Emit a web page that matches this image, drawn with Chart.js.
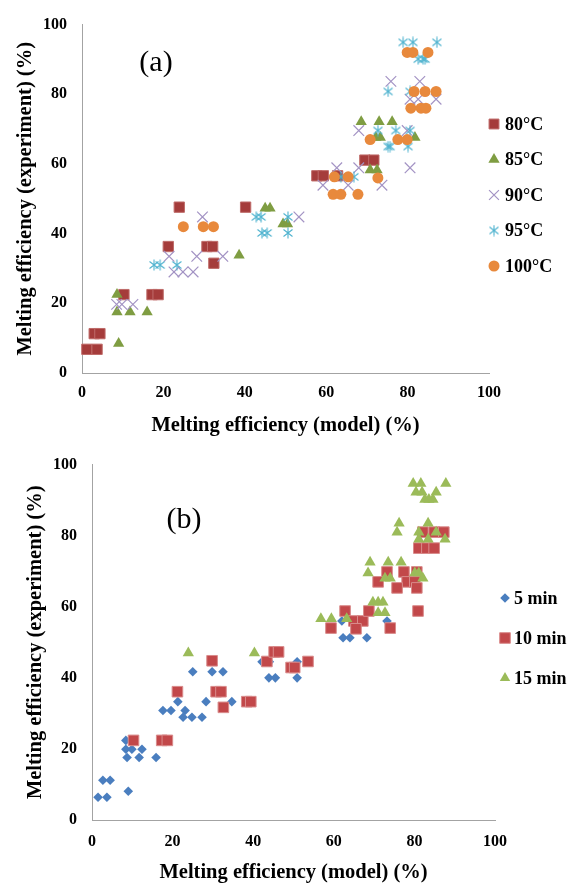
<!DOCTYPE html>
<html>
<head>
<meta charset="utf-8">
<script src="https://cdn.jsdelivr.net/npm/chart.js@4.4.1/dist/chart.umd.min.js"></script>
<style>
  body { margin: 0; background: #fff; }
  .wrap { position: absolute; left: 0; }
  canvas { display: block; }
</style>
</head>
<body>
<div class="wrap" style="top:0"><canvas id="chartA" width="572" height="440"></canvas></div>
<div class="wrap" style="top:440px"><canvas id="chartB" width="572" height="445"></canvas></div>
<script>
// ---- data (a): temperature series ----
const tempLabels = ["80°C", "85°C", "90°C", "95°C", "100°C"];
const t80X = [1.2, 3.7, 3.0, 4.4, 10.3, 17.2, 18.7, 21.2, 23.9, 30.7, 32.1, 32.4, 40.2, 57.7, 59.3, 62.8, 69.5, 71.7];
const t80Y = [6.8, 6.8, 11.3, 11.3, 22.5, 22.5, 22.5, 36.3, 47.6, 36.3, 36.3, 31.5, 47.6, 56.6, 56.6, 56.6, 61.1, 61.1];
const t85X = [8.6, 8.6, 11.8, 16.0, 9.0, 38.6, 45.0, 46.2, 49.4, 50.5, 68.6, 73.0, 76.2, 72.2, 73.3, 81.8, 70.8, 72.5];
const t85Y = [22.5, 17.5, 17.5, 17.5, 8.5, 33.8, 47.3, 47.3, 42.8, 42.8, 72.1, 72.1, 72.1, 67.6, 67.6, 67.6, 58.3, 58.3];
const t90X = [8.5, 9.8, 12.5, 21.4, 22.6, 24.8, 27.3, 28.2, 29.6, 34.6, 53.3, 59.2, 62.6, 65.4, 68.0, 73.7, 80.6, 68.0, 79.9, 75.9, 83.0, 80.6, 82.6, 87.0];
const t90Y = [19.7, 19.7, 19.7, 33.5, 29.0, 29.0, 29.0, 33.5, 44.8, 33.5, 44.8, 53.9, 58.9, 53.9, 58.9, 53.9, 58.9, 69.6, 69.6, 83.7, 83.7, 78.6, 78.6, 78.6];
const t95X = [17.7, 19.2, 23.3, 42.8, 44.0, 44.2, 45.5, 50.6, 50.6, 63.6, 66.8, 72.7, 77.1, 80.6, 75.2, 75.7, 80.1, 75.2, 80.6, 78.9, 81.3, 87.2, 82.6, 83.8, 84.3];
const t95Y = [31, 31, 31, 44.8, 44.8, 40.2, 40.2, 44.8, 40.2, 56.3, 56.3, 69.6, 69.6, 69.6, 65, 65, 65, 80.8, 80.8, 94.9, 94.9, 94.9, 90.1, 90.1, 90.1];
const t100X = [24.9, 29.8, 32.3, 62.0, 65.4, 72.7, 61.7, 63.6, 67.8, 70.8, 77.6, 79.9, 80.8, 83.3, 84.5, 81.6, 84.3, 87.0, 79.9, 81.3, 85.0];
const t100Y = [42, 42, 42, 56.3, 56.3, 56, 51.3, 51.3, 51.3, 67, 67, 67, 76, 76, 76, 80.8, 80.8, 80.8, 92, 92, 92];

// ---- data (b): time series ----
const timeLabels = ["5 min", "10 min", "15 min"];
const m5X = [1.5, 3.7, 2.7, 4.5, 9.0, 8.4, 8.4, 9.9, 12.4, 8.7, 11.7, 15.9, 17.6, 19.6, 21.3, 23.1, 22.6, 24.8, 27.3, 28.3, 25.0, 29.8, 32.5, 34.7, 42.2, 44.0, 43.9, 45.5, 50.9, 50.9, 62.0, 62.3, 64.0, 68.2, 73.2];
const m5Y = [6.4, 6.4, 11.2, 11.2, 8.1, 22.4, 19.9, 19.9, 19.9, 17.6, 17.6, 17.6, 30.8, 30.8, 33.3, 30.8, 28.9, 28.9, 28.9, 33.3, 41.7, 41.7, 41.7, 33.3, 44.5, 44.5, 40, 40, 44.5, 40, 56, 51.3, 51.3, 51.3, 56];
const m10X = [10.3, 17.3, 18.7, 21.2, 29.8, 30.8, 32.0, 32.6, 38.4, 39.4, 43.4, 45.2, 46.3, 49.4, 50.3, 53.6, 59.3, 62.8, 65.0, 67.2, 65.5, 68.7, 74.0, 80.9, 73.2, 77.4, 80.6, 71.0, 78.2, 80.1, 75.7, 80.6, 82.1, 84.9, 87.3, 81.1, 83.1, 84.9];
const m10Y = [22.4, 22.4, 22.4, 36.1, 44.8, 36.1, 36.1, 31.7, 33.3, 33.3, 44.6, 47.3, 47.3, 42.9, 42.9, 44.6, 54, 58.8, 56, 56, 53.8, 58.8, 54, 58.8, 69.8, 69.8, 69.8, 67, 67, 67, 65.3, 65.3, 81, 81, 81, 76.5, 76.5, 76.5];
const m15X = [23.9, 40.3, 56.8, 59.4, 63.2, 69.7, 71.0, 72.2, 71.0, 72.7, 69.0, 68.5, 73.5, 76.7, 72.7, 74.0, 80.1, 81.1, 82.1, 75.7, 76.2, 81.1, 83.4, 85.4, 81.1, 83.4, 87.6, 79.7, 81.6, 87.8, 80.4, 81.9, 85.4, 82.6, 83.6, 84.6];
const m15Y = [47, 47, 56.6, 56.6, 56.6, 61.3, 61.3, 61.3, 58.3, 58.3, 72.5, 69.5, 72.5, 72.5, 68, 68, 69.5, 69.5, 68, 81, 83.5, 81, 83.5, 81, 79, 79, 79, 94.7, 94.7, 94.7, 92.2, 92.2, 92.2, 90.2, 90.2, 90.2];

const axisTicks = [0, 20, 40, 60, 80, 100];
const xTitle = "Melting efficiency (model) (%)";
const yTitle = "Melting efficiency (experiment) (%)";

const serif = "'Liberation Serif', 'Times New Roman', serif";

function pts(xs, ys) {
  return xs.map((x, i) => ({ x: x, y: ys[i] }));
}

// Excel style asterisk marker (vertical bar + x)
function makeStar(color) {
  const c = document.createElement("canvas");
  c.width = 12;
  c.height = 12;
  const g = c.getContext("2d");
  g.strokeStyle = color;
  g.lineWidth = 1.1;
  g.beginPath();
  g.moveTo(6, 0.5); g.lineTo(6, 11.5);
  g.moveTo(1.5, 2.5); g.lineTo(10.5, 9.5);
  g.moveTo(10.5, 2.5); g.lineTo(1.5, 9.5);
  g.stroke();
  return c;
}

// legend + panel letter drawn at fixed spots
const sideLegend = {
  id: "sideLegend",
  afterDraw(chart, args, opts) {
    const ctx = chart.ctx;
    ctx.save();
    chart.data.datasets.forEach((ds, i) => {
      const y = opts.y0 + i * opts.step;
      ctx.fillStyle = ds.backgroundColor;
      ctx.strokeStyle = ds.borderColor;
      ctx.lineWidth = ds.borderWidth;
      Chart.helpers.drawPoint(ctx, {
        pointStyle: ds.pointStyle,
        radius: ds.legendRadius,
        borderWidth: ds.borderWidth,
        rotation: 0
      }, opts.x, y);
      ctx.fillStyle = "#000";
      ctx.font = "bold 18px " + serif;
      ctx.textAlign = "left";
      ctx.textBaseline = "middle";
      ctx.fillText(ds.label, opts.x + opts.gap, y + 1);
    });
    ctx.font = "30px " + serif;
    ctx.textAlign = "center";
    ctx.textBaseline = "middle";
    ctx.fillStyle = "#000";
    ctx.fillText(opts.panel, opts.px, opts.py);
    ctx.restore();
  }
};

function makeScales(yWidth, xHeight, yTitlePad, xTitlePad, xTickPad) {
  const tickFont = { family: serif, size: 16, weight: "bold" };
  const titleFont = { family: serif, size: 20.5, weight: "bold" };
  return {
    x: {
      type: "linear",
      min: 0,
      max: 100,
      afterFit: (s) => { s.height = xHeight; },
      afterBuildTicks: (s) => { s.ticks = axisTicks.map((v) => ({ value: v })); },
      grid: { display: false, drawTicks: false },
      border: { display: true, color: "#a3a3a3", width: 1 },
      ticks: { color: "#000", font: tickFont, padding: xTickPad },
      title: { display: true, text: xTitle, color: "#000", font: titleFont, padding: { top: 0, bottom: xTitlePad } }
    },
    y: {
      type: "linear",
      min: 0,
      max: 100,
      afterFit: (s) => { s.width = yWidth; },
      afterBuildTicks: (s) => { s.ticks = axisTicks.map((v) => ({ value: v })); },
      grid: { display: false, drawTicks: false },
      border: { display: true, color: "#a3a3a3", width: 1 },
      ticks: { color: "#000", font: tickFont, padding: 15 },
      title: { display: true, text: yTitle, color: "#000", font: titleFont, padding: { top: yTitlePad, bottom: 0 } }
    }
  };
}

// ---- chart (a) ----
const starBlue = makeStar("#4fb3cf");
new Chart(document.getElementById("chartA"), {
  type: "scatter",
  data: {
    datasets: [
      { label: tempLabels[0], data: pts(t80X, t80Y), pointStyle: "rect", pointRadius: 7.3, legendRadius: 7,
        backgroundColor: "#a53c3b", borderColor: "#bf6b69", borderWidth: 1, order: 4, clip: false },
      { label: tempLabels[1], data: pts(t85X, t85Y), pointStyle: "triangle", pointRadius: 6.5, legendRadius: 6.5,
        backgroundColor: "#7f9d42", borderColor: "#7f9d42", borderWidth: 0, order: 3, clip: false },
      { label: tempLabels[2], data: pts(t90X, t90Y), pointStyle: "crossRot", pointRadius: 7.5, legendRadius: 7,
        backgroundColor: "#a393c4", borderColor: "#a393c4", borderWidth: 1.2, order: 2, clip: false },
      { label: tempLabels[3], data: pts(t95X, t95Y), pointStyle: starBlue, pointRadius: 6, legendRadius: 6,
        backgroundColor: "#4fb3cf", borderColor: "#4fb3cf", borderWidth: 0, order: 1, clip: false },
      { label: tempLabels[4], data: pts(t100X, t100Y), pointStyle: "circle", pointRadius: 5.5, legendRadius: 5.5,
        backgroundColor: "#e8893c", borderColor: "#e8893c", borderWidth: 0, order: 0, clip: false }
    ]
  },
  options: {
    responsive: false,
    animation: false,
    layout: { padding: { left: 0, right: 83, top: 18, bottom: 0 } },
    scales: makeScales(82, 67, 13, 2, 10),
    plugins: {
      legend: { display: false },
      tooltip: { enabled: false },
      sideLegend: { x: 494, gap: 11, y0: 124, step: 35.5, panel: "(a)", px: 156, py: 63 }
    }
  },
  plugins: [sideLegend]
});

// ---- chart (b) ----
new Chart(document.getElementById("chartB"), {
  type: "scatter",
  data: {
    datasets: [
      { label: timeLabels[0], data: pts(m5X, m5Y), pointStyle: "rectRot", pointRadius: 4.8, legendRadius: 4.8,
        backgroundColor: "#4a7ebf", borderColor: "#4a7ebf", borderWidth: 0, order: 2, clip: false },
      { label: timeLabels[1], data: pts(m10X, m10Y), pointStyle: "rect", pointRadius: 7.5, legendRadius: 7.5,
        backgroundColor: "#c2484a", borderColor: "#d98b8b", borderWidth: 1, order: 1, clip: false },
      { label: timeLabels[2], data: pts(m15X, m15Y), pointStyle: "triangle", pointRadius: 6.5, legendRadius: 6,
        backgroundColor: "#9bbb59", borderColor: "#9bbb59", borderWidth: 0, order: 0, clip: false }
    ]
  },
  options: {
    responsive: false,
    animation: false,
    layout: { padding: { left: 0, right: 77, top: 23, bottom: 0 } },
    scales: makeScales(92, 65, 23, 0, 12),
    plugins: {
      legend: { display: false },
      tooltip: { enabled: false },
      sideLegend: { x: 505, gap: 9, y0: 158, step: 40, panel: "(b)", px: 184, py: 80 }
    }
  },
  plugins: [sideLegend]
});
</script>
</body>
</html>
